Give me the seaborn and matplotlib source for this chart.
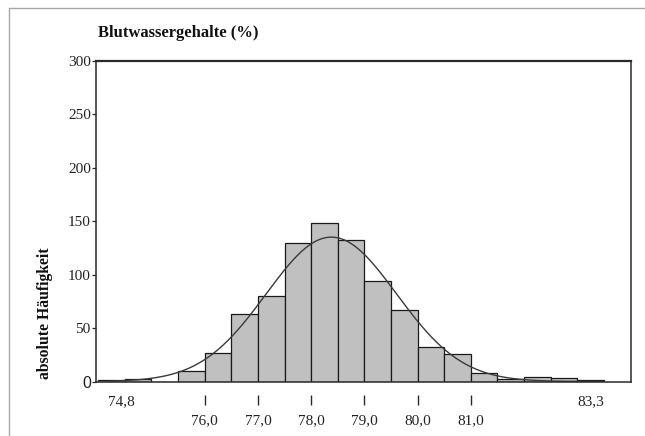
import numpy as np
import pandas as pd
import matplotlib
matplotlib.use("Agg")
import matplotlib.pyplot as plt
import seaborn as sns

# ---- data ----
bin_left = [74.0, 74.5, 75.0, 75.5, 76.0, 76.5, 77.0, 77.5, 78.0, 78.5,
            79.0, 79.5, 80.0, 80.5, 81.0, 81.5, 82.0, 82.5, 83.0]
counts = [1, 2, 0, 10, 27, 63, 80, 130, 148, 132,
          94, 67, 32, 26, 8, 2, 4, 3, 1]
bin_width = 0.5
fit_mean = 78.38
fit_sd = 1.225
curve_range = [74.2, 83.5]
major_ticks = [76.0, 77.0, 78.0, 79.0, 80.0, 81.0]
major_labels = ["76,0", "77,0", "78,0", "79,0", "80,0", "81,0"]
extreme_pos = [74.43, 83.25]
extreme_labels = ["74,8", "83,3"]
y_ticks = [0, 50, 100, 150, 200, 250, 300]
title = "Blutwassergehalte (%)"
ylabel = "absolute Häufigkeit"

sns.set_style("white")
plt.rcParams["font.family"] = ["Liberation Serif", "DejaVu Serif"]

W, H = 645, 436
PX = 72 / 100  # points per pixel at dpi 100
fig = plt.figure(figsize=(W / 100, H / 100), dpi=100)
ax = fig.add_axes([95.5 / W, 1 - 381.5 / H, (630.6 - 95.5) / W, (381.5 - 61) / H])

df = pd.DataFrame({"center": np.array(bin_left) + bin_width / 2, "n": counts})
edges = list(bin_left) + [bin_left[-1] + bin_width]
sns.histplot(data=df, x="center", weights="n", bins=edges, stat="count",
             color="#c0c0c0", edgecolor="#1a1a1a", linewidth=0.9, alpha=1,
             ax=ax)

N = float(np.sum(counts))
xs = np.linspace(curve_range[0], curve_range[1], 400)
ys = N * bin_width * np.exp(-0.5 * ((xs - fit_mean) / fit_sd) ** 2) / (fit_sd * np.sqrt(2 * np.pi))
sns.lineplot(x=xs, y=ys, color="#3a3a3a", linewidth=1.0, ax=ax)

ax.set_xlim(73.95, 84.0)
ax.set_ylim(0, 300)
ax.set_xlabel("")
ax.set_ylabel("")

for s in ax.spines.values():
    s.set_visible(True)
    s.set_color("#2a2a2a")
    s.set_linewidth(1.1)
ax.spines["top"].set_linewidth(1.6)

# y axis
ax.set_yticks(y_ticks)
ax.set_yticklabels([str(v) for v in y_ticks])
ax.tick_params(axis="y", which="major", direction="out", length=4 * PX, width=0.9,
               color="#2a2a2a", pad=0.5, labelsize=11, labelcolor="#222222",
               left=True)
for lab in ax.get_yticklabels():
    if lab.get_text() == "0":
        lab.set_fontfamily(["Liberation Sans", "DejaVu Sans"])
        lab.set_fontsize(11.5)

# x axis: lower row labels (major), upper row extremes (minor)
ax.set_xticks(major_ticks)
ax.set_xticklabels(major_labels)
ax.set_xticks(extreme_pos, minor=True)
ax.set_xticklabels(extreme_labels, minor=True)
ax.tick_params(axis="x", which="major", length=0, pad=33 * PX, labelsize=11,
               labelcolor="#222222", bottom=True)
ax.tick_params(axis="x", which="minor", length=0, pad=14 * PX, labelsize=11,
               labelcolor="#222222", bottom=True)

# the small vertical marks below the axis
sec = ax.secondary_xaxis(-0.042)
sec.set_xticks(major_ticks)
sec.set_xticklabels([])
sec.tick_params(axis="x", direction="out", length=10 * PX, width=1.0, color="#2a2a2a")
sec.spines["bottom"].set_visible(False)

# title and y label
fig.text(98 / W, 1 - 33 / H, title, ha="left", va="center", fontsize=12,
         fontweight="bold", color="#111111")
fig.text(45 / W, 1 - 313 / H, ylabel, ha="center", va="center", rotation=90,
         fontsize=11.3, fontweight="bold", color="#111111")

# light outer frame
frame_color = "#a8a8a8"
fig.add_artist(plt.Line2D([9 / W, 1.0], [1 - 8 / H, 1 - 8 / H],
                          transform=fig.transFigure, color=frame_color, linewidth=1.0))
fig.add_artist(plt.Line2D([9 / W, 9 / W], [0.0, 1 - 8 / H],
                          transform=fig.transFigure, color=frame_color, linewidth=1.0))

fig.savefig("out.png", dpi=100, facecolor="white")
